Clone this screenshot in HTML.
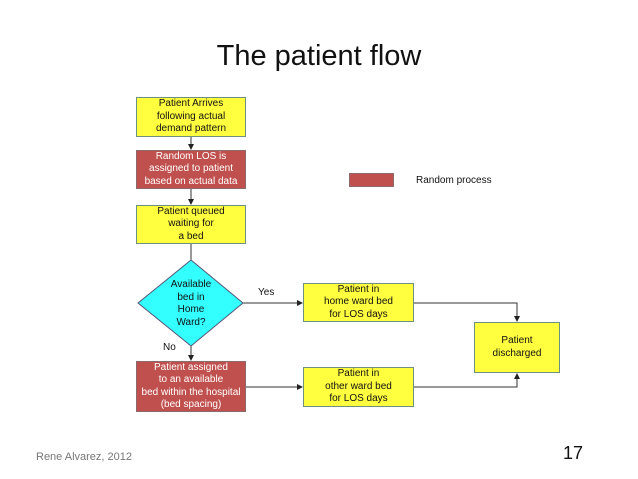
<!DOCTYPE html>
<html><head><style>
body{margin:0;width:638px;height:479px;background:#fff;overflow:hidden;position:relative;font-family:"Liberation Sans",sans-serif}
.b{position:absolute;box-sizing:border-box;border:1px solid #6f8f7f;display:flex;align-items:center;justify-content:center;text-align:center;font-size:10px;line-height:12.5px;color:#111}
.y{background:#ffff40}
.r{background:#c0504d;color:#fff;border-color:#8a6a6a}
.t{position:absolute;font-size:10px;color:#111}
</style></head><body>
<div style="position:absolute;left:0;width:638px;top:40px;text-align:center;font-size:29px;color:#111">The patient flow</div>
<svg width="638" height="479" style="position:absolute;left:0;top:0">
<defs><marker id="a" markerWidth="6" markerHeight="6" refX="5" refY="3" orient="auto"><path d="M0,0L6,3L0,6z" fill="#222"/></marker></defs>
<g stroke="#333" stroke-width="1" fill="none">
<line x1="191" y1="137" x2="191" y2="149" marker-end="url(#a)"/>
<line x1="191" y1="189" x2="191" y2="204" marker-end="url(#a)"/>
<line x1="191" y1="244" x2="191" y2="260"/>
<line x1="191" y1="346" x2="191" y2="360" marker-end="url(#a)"/>
<line x1="243" y1="303" x2="302" y2="303" marker-end="url(#a)"/>
<line x1="246" y1="387" x2="302" y2="387" marker-end="url(#a)"/>
<polyline points="414,303 517,303 517,321" marker-end="url(#a)"/>
<polyline points="414,387 517,387 517,374" marker-end="url(#a)"/>
</g>
<polygon points="191,260 243,303 191,346 138,303" fill="#33ffff" stroke="#557"/>
</svg>
<div class="b y" style="left:136px;top:97px;width:110px;height:40px">Patient Arrives<br>following actual<br>demand pattern</div>
<div class="b r" style="left:136px;top:150px;width:110px;height:39px">Random LOS is<br>assigned to patient<br>based on actual data</div>
<div class="b y" style="left:136px;top:205px;width:110px;height:39px">Patient queued<br>waiting for<br>a bed</div>
<div class="t" style="left:161px;top:279px;width:60px;text-align:center;line-height:12.5px">Available<br>bed in<br>Home<br>Ward?</div>
<div class="t" style="left:258px;top:287px">Yes</div>
<div class="t" style="left:163px;top:342px">No</div>
<div class="b r" style="left:136px;top:361px;width:110px;height:51px">Patient assigned<br>to an available<br>bed within the hospital<br>(bed spacing)</div>
<div class="b y" style="left:303px;top:283px;width:111px;height:39px">Patient in<br>home ward bed<br>for LOS days</div>
<div class="b y" style="left:303px;top:367px;width:111px;height:40px">Patient in<br>other ward bed<br>for LOS days</div>
<div class="b y" style="left:474px;top:322px;width:86px;height:51px">Patient<br>discharged</div>
<div style="position:absolute;left:349px;top:173px;width:45px;height:14px;background:#c0504d;border:1px solid #8a6a6a;box-sizing:border-box"></div>
<div class="t" style="left:416px;top:175px">Random process</div>
<div style="position:absolute;left:36px;top:451px;font-size:11px;color:#777">Rene Alvarez, 2012</div>
<div style="position:absolute;left:563px;top:443px;font-size:18px;color:#111">17</div>
</body></html>
